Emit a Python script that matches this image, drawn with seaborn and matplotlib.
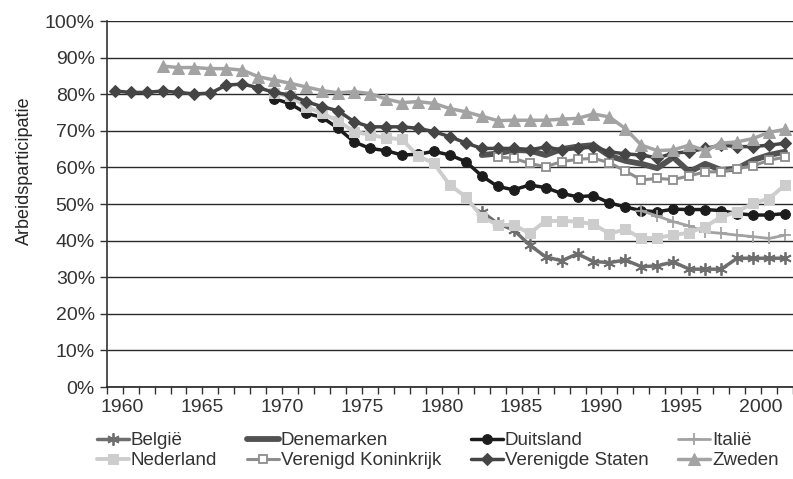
import numpy as np
import pandas as pd
import seaborn as sns
import matplotlib.pyplot as plt

# values (share of men in the labour force, %)
belgie_start = 1983
belgie = [47.9, 44.7, 42.9, 38.8, 35.6, 34.5, 36.4, 34.3, 34.0, 34.7,
          32.9, 33.1, 34.2, 32.2, 32.2, 32.2, 35.2, 35.2, 35.2, 35.2]

denemarken_start = 1983
denemarken = [63.4, 63.8, 64.8, 64.6, 63.4, 65.0, 65.7, 66.1, 63.2, 61.8,
              61.0, 59.8, 62.8, 58.8, 61.0, 59.3, 59.7, 62.0, 63.4, 64.3]

duitsland_start = 1970
duitsland = [78.8, 77.4, 74.8, 73.7, 70.7, 67.0, 65.2, 64.6, 63.4, 63.6,
             64.4, 63.4, 61.6, 57.7, 54.8, 53.9, 55.2, 54.5, 52.9, 52.0,
             52.3, 50.3, 49.2, 48.2, 47.9, 48.6, 48.5, 48.5, 48.2, 47.4,
             47.0, 47.0, 47.4]

italie_start = 1993
italie = [48.2, 46.7, 45.2, 44.0, 42.4, 42.0, 41.5, 41.1, 40.6, 41.5]

nederland_start = 1970
nederland = [80.3, 79.4, 76.6, 74.8, 72.7, 69.8, 68.9, 68.1, 67.7, 63.2,
             61.1, 55.2, 52.0, 46.5, 44.3, 44.3, 42.0, 45.4, 45.4, 45.2,
             44.5, 41.9, 43.1, 40.6, 40.8, 41.5, 42.2, 43.8, 46.5, 47.9,
             50.2, 51.5, 55.2]

vk_start = 1984
vk = [62.9, 62.5, 61.1, 60.2, 61.6, 62.2, 62.5, 61.3, 59.0, 56.6,
      57.0, 56.7, 57.7, 58.8, 58.8, 59.7, 60.4, 62.0, 62.8]

vs_start = 1960
vs = [80.9, 80.5, 80.5, 80.9, 80.5, 80.1, 80.3, 82.5, 82.8, 81.8,
      80.5, 79.8, 78.0, 76.6, 75.5, 72.5, 71.1, 71.1, 71.1, 70.7,
      69.8, 68.4, 66.7, 65.2, 65.2, 65.2, 64.8, 65.6, 64.8, 65.2,
      65.6, 64.3, 63.7, 63.4, 62.6, 63.9, 64.3, 65.2, 66.1, 65.7,
      65.7, 66.1, 66.6]

zweden_start = 1963
zweden = [87.7, 87.3, 87.3, 87.0, 87.0, 86.6, 84.8, 83.9, 83.0, 82.0,
          81.0, 80.4, 80.7, 80.2, 78.7, 77.7, 78.0, 77.5, 76.1, 75.2,
          74.0, 72.8, 72.9, 72.9, 72.9, 73.2, 73.4, 74.6, 73.8, 70.6,
          66.1, 64.6, 64.8, 66.1, 64.6, 66.6, 67.0, 67.9, 69.6, 70.4]

label_years = [1960, 1965, 1970, 1975, 1980, 1985, 1990, 1995, 2000]

series = [
    ("België", belgie_start, belgie,
     dict(color="#6e6e6e", lw=2.5, marker=(6, 2, 0), ms=9, mew=1.3)),
    ("Denemarken", denemarken_start, denemarken,
     dict(color="#525252", lw=4.2, marker=None)),
    ("Duitsland", duitsland_start, duitsland,
     dict(color="#1c1c1c", lw=2.5, marker="o", ms=7)),
    ("Italië", italie_start, italie,
     dict(color="#a2a2a2", lw=2.0, marker="+", ms=9, mew=1.3)),
    ("Nederland", nederland_start, nederland,
     dict(color="#cdcdcd", lw=2.8, marker="s", ms=7)),
    ("Verenigd Koninkrijk", vk_start, vk,
     dict(color="#8e8e8e", lw=2.2, marker="s", ms=6, mfc="white", mew=1.3)),
    ("Verenigde Staten", vs_start, vs,
     dict(color="#454545", lw=2.5, marker="D", ms=6.5)),
    ("Zweden", zweden_start, zweden,
     dict(color="#a3a3a3", lw=2.5, marker="^", ms=8)),
]

sns.set_style("white")
plt.rcParams["font.family"] = ["Liberation Sans", "DejaVu Sans"]
plt.rcParams["text.color"] = "#333333"
plt.rcParams["xtick.color"] = "#333333"
plt.rcParams["ytick.color"] = "#333333"

fig = plt.figure(figsize=(7.93, 4.79), dpi=100)
ax = fig.add_axes([0.1345, 0.192, 0.8655, 0.764])

handles = {}
for name, start, vals, st in series:
    df = pd.DataFrame({"jaar": np.arange(start, start + len(vals)), "waarde": vals})
    sns.lineplot(data=df, x="jaar", y="waarde", ax=ax, label=name,
                 mec=st["color"], **st)
    handles[name] = ax.lines[-1]

ax.set_xlim(1959.5, 2002.13)
ax.set_ylim(0, 100)

ax.set_yticks(np.arange(0, 101, 10))
ax.set_yticklabels([f"{v}%" for v in range(0, 101, 10)], fontsize=14)
ax.yaxis.grid(True, color="#2a2a2a", lw=1.0)
ax.set_axisbelow(True)

ax.set_xticks([y + 0.5 for y in label_years])
ax.set_xticklabels([str(y) for y in label_years], fontsize=14)
ax.set_xticks(np.arange(1959.5, 2003, 1), minor=True)
ax.tick_params(axis="x", which="both", direction="out", length=5, width=1, color="#333333", bottom=True)
ax.tick_params(axis="y", direction="out", length=5, width=1, color="#333333", left=True)

for s in ["top", "right"]:
    ax.spines[s].set_visible(False)
ax.spines["left"].set_color("#333333")
ax.spines["bottom"].set_color("#222222")
ax.spines["left"].set_linewidth(1.2)
ax.spines["bottom"].set_linewidth(1.2)

ax.set_xlabel("")
ax.set_ylabel("Arbeidsparticipatie", fontsize=13)
ax.yaxis.set_label_coords(-0.108, 0.59)

ax.get_legend().remove()
order = ["België", "Nederland", "Denemarken", "Verenigd Koninkrijk",
         "Duitsland", "Verenigde Staten", "Italië", "Zweden"]
fig.legend([handles[n] for n in order], order, ncol=4, frameon=False,
           loc="upper left", bbox_to_anchor=(0.122, 0.098), fontsize=13.5,
           handlelength=1.7, handletextpad=0.1, columnspacing=1.6,
           labelspacing=0.15, borderaxespad=0, borderpad=0)

fig.savefig("out.png", dpi=100)
